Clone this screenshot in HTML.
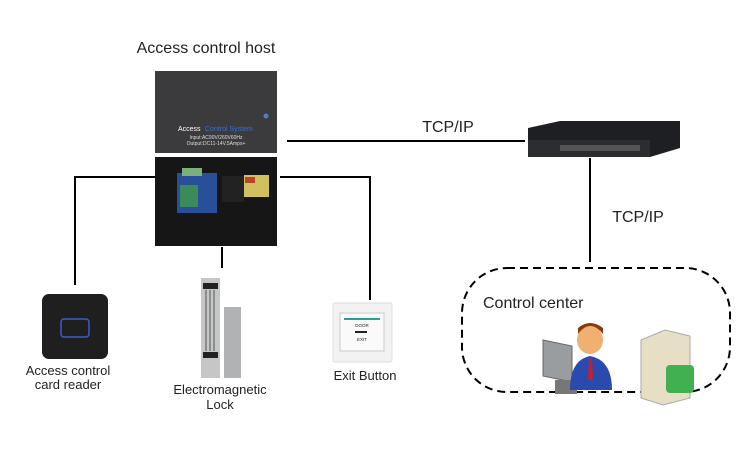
<!DOCTYPE html>
<html><head><meta charset="utf-8"><style>
html,body{margin:0;padding:0;background:#fff;width:750px;height:450px;overflow:hidden}
svg{display:block}
text{font-family:"Liberation Sans",sans-serif;fill:#222}
</style></head><body>
<svg width="750" height="450" viewBox="0 0 750 450" xmlns="http://www.w3.org/2000/svg">
<!-- connectors -->
<g stroke="#000" stroke-width="2" fill="none">
<line x1="287" y1="141" x2="525" y2="141"/>
<line x1="590" y1="158" x2="590" y2="262"/>
<polyline points="155,177 75,177 75,285"/>
<polyline points="280,177 370,177 370,300"/>
<line x1="222" y1="247" x2="222" y2="268"/>
</g>
<text x="206" y="53" font-size="16" text-anchor="middle">Access control host</text>
<text x="448" y="132" font-size="16" text-anchor="middle">TCP/IP</text>
<text x="638" y="222" font-size="16" text-anchor="middle">TCP/IP</text>
<!-- host top -->
<rect x="155" y="71" width="122" height="82" fill="#3b3b3d"/>
<text x="178" y="131" font-size="7" fill="#fff" style="fill:#fff">Access</text>
<text x="205" y="131" font-size="7" style="fill:#3a6fd0">Control System</text>
<text x="216" y="139" font-size="5" text-anchor="middle" style="fill:#ddd">Input:AC90V/260V60Hz</text>
<text x="216" y="145" font-size="5" text-anchor="middle" style="fill:#ddd">Output:DC11-14V.5Amps+</text>
<circle cx="266" cy="116" r="2.5" fill="#4a7fd0"/>
<!-- host bottom -->
<rect x="155" y="157" width="122" height="89" fill="#161616"/>
<rect x="177" y="173" width="40" height="40" fill="#2a4f9a"/>
<rect x="180" y="185" width="18" height="22" fill="#3a8a5a"/>
<rect x="182" y="168" width="20" height="8" fill="#7ab07a"/>
<rect x="222" y="176" width="22" height="26" fill="#222"/>
<rect x="244" y="175" width="25" height="22" fill="#d0c060"/>
<rect x="245" y="177" width="10" height="6" fill="#c04030"/>
<!-- switch -->
<polygon points="528,128 560,121 680,121 680,148 650,157 528,157" fill="#1d1f22"/>
<rect x="528" y="140" width="122" height="17" fill="#2b2d31"/>
<g fill="#555"><rect x="560" y="145" width="80" height="6"/></g>
<!-- card reader -->
<rect x="42" y="294" width="66" height="65" rx="7" fill="#1f1f1f"/>
<rect x="61" y="319" width="28" height="18" rx="3" fill="none" stroke="#3a5fc8" stroke-width="1.5"/>
<text x="68" y="375" font-size="13" text-anchor="middle">Access control</text>
<text x="68" y="389" font-size="13" text-anchor="middle">card reader</text>
<!-- lock -->
<rect x="201" y="278" width="19" height="100" fill="#c4c6c8"/>
<rect x="203" y="283" width="15" height="6" fill="#222"/>
<rect x="203" y="352" width="15" height="6" fill="#222"/>
<g stroke="#555" stroke-width="1"><line x1="206" y1="290" x2="206" y2="351"/><line x1="210" y1="290" x2="210" y2="351"/><line x1="214" y1="290" x2="214" y2="351"/></g>
<rect x="224" y="307" width="17" height="71" fill="#b0b2b4"/>
<text x="220" y="394" font-size="13" text-anchor="middle">Electromagnetic</text>
<text x="220" y="409" font-size="13" text-anchor="middle">Lock</text>
<!-- exit button -->
<rect x="333" y="303" width="59" height="59" rx="2" fill="#f2f2f2" stroke="#ddd"/>
<rect x="340" y="313" width="44" height="38" fill="#fafafa" stroke="#ccc"/>
<rect x="344" y="318" width="36" height="2" fill="#2aa090"/>
<text x="362" y="327" font-size="4.5" text-anchor="middle">DOOR</text>
<text x="362" y="341" font-size="4.5" text-anchor="middle">EXIT</text>
<rect x="355" y="331" width="12" height="2" fill="#222"/>
<text x="365" y="380" font-size="13" text-anchor="middle">Exit Button</text>
<!-- control center -->
<rect x="462" y="268" width="268" height="124" rx="45" fill="none" stroke="#000" stroke-width="2" stroke-dasharray="8,5"/>
<text x="483" y="308" font-size="16">Control center</text>
<rect x="540" y="345" width="40" height="40" fill="#fff"/>
<polygon points="543,340 572,346 572,382 543,376" fill="#9a9da0" stroke="#666"/>
<rect x="555" y="380" width="22" height="14" fill="#777"/>
<ellipse cx="590" cy="340" rx="13" ry="14" fill="#f0b070"/>
<path d="M578,334 Q590,318 603,334 L603,328 Q590,318 578,328Z" fill="#8a3a10"/>
<path d="M570,390 Q570,360 590,356 Q612,360 612,390Z" fill="#2a4ab0"/>
<polygon points="589,358 592,358 593,380 588,380" fill="#c02030"/>
<polygon points="641,340 665,330 690,336 690,398 663,405 641,398" fill="#e6dfc5" stroke="#aaa"/>
<rect x="666" y="365" width="28" height="28" rx="4" fill="#40b050"/>
</svg>
</body></html>
